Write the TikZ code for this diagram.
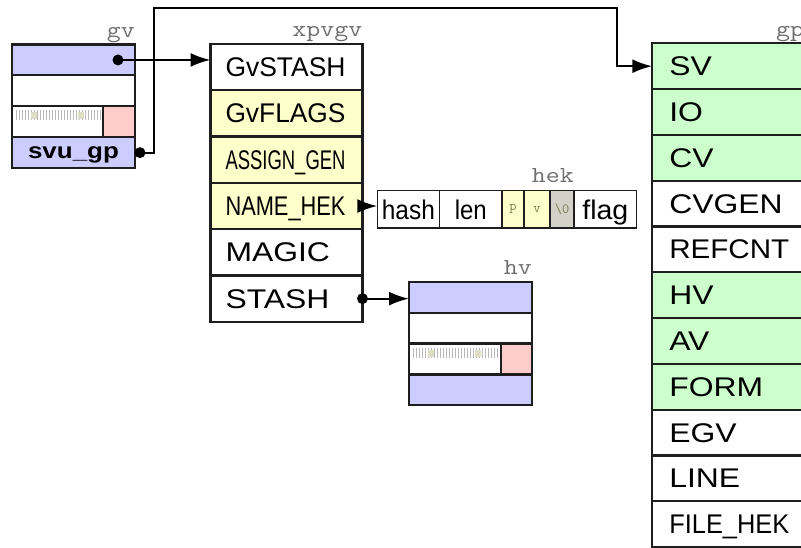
\documentclass[tikz,border=0pt]{standalone}
\usepackage{fontspec}
\usepackage{graphicx}
\usepackage{xcolor}
\usepackage{tikz}
\usetikzlibrary{arrows.meta,positioning}
\setmainfont{Liberation Sans}
\definecolor{PerlBlue}{RGB}{204,204,255}
\definecolor{PerlYellow}{RGB}{255,255,204}
\definecolor{PerlGreen}{RGB}{204,255,204}
\definecolor{PerlPink}{RGB}{255,204,204}
\definecolor{PerlNul}{RGB}{210,210,200}
\definecolor{PerlEdge}{RGB}{30,30,30}
\definecolor{PerlLabel}{RGB}{110,110,110}
\definecolor{PerlFlagText}{RGB}{120,120,80}
\definecolor{PerlTick}{RGB}{185,185,185}
\definecolor{PerlTickBlock}{RGB}{222,222,198}

% field text: widened like the original, squeezed when too long
\newsavebox\fldbox
\newlength\fldw
\newcommand\fld[2][120pt]{%
  \sbox\fldbox{#2}\dp\fldbox=0pt\relax
  \setlength\fldw{1.18\wd\fldbox}%
  \ifdim\fldw>#1\relax\resizebox{#1}{\height}{\usebox\fldbox}%
  \else\scalebox{1.18}[1]{\usebox\fldbox}\fi}
\newcommand\lbl[1]{\scalebox{1.18}[1]{\ttfamily\fontsize{23pt}{25pt}\selectfont #1}}

\begin{document}
\begin{tikzpicture}[x=1pt, y=-1pt, node distance=0pt]
  \tikzstyle{cell} = [rectangle, draw=PerlEdge, line width=2.2pt, outer sep=0pt, inner sep=0pt]
  \tikzstyle{xfield} = [cell, minimum height=46.3pt, text width=122pt, inner xsep=15pt, align=left, font=\fontsize{27pt}{29pt}\selectfont]
  \tikzstyle{gfield} = [xfield, minimum height=45.8pt, text width=118pt, inner xsep=17pt]
  \tikzstyle{slot} = [cell, minimum width=123pt, minimum height=30.9pt]
  \tikzstyle{hekcell} = [cell, line width=1.5pt, minimum height=37.3pt, font=\fontsize{27pt}{29pt}\selectfont]
  \tikzstyle{hekflag} = [hekcell, font=\ttfamily\fontsize{14pt}{16pt}\selectfont, text=PerlFlagText]
  \tikzstyle{tag} = [text=PerlLabel, inner sep=0pt, anchor=base east]
  \tikzstyle{ptr} = [draw=black, line width=2.2pt, -{Latex[length=20pt,width=14pt]}]
  \tikzstyle{tickmark} = [draw=PerlTick, line width=1pt]

  \useasboundingbox (0,0) rectangle (801,548);
  \clip (0,0) rectangle (801,548);

  % gv
  \node [slot, fill=PerlBlue, anchor=north west] (gv1) at (12,44.5) {};
  \node [slot, below=of gv1] (gv2) {};
  \node [slot, minimum width=91pt, anchor=north west] (gv3) at (gv2.south west) {};
  \node [slot, minimum width=32pt, fill=PerlPink, anchor=west] (gv3f) at (gv3.east) {};
  \node [slot, fill=PerlBlue, anchor=north west, font=\fontsize{22pt}{24pt}\selectfont\bfseries] (gv4) at (gv3.south west) {\fld[93pt]{svu\_gp}};
  \node [tag] at ([yshift=7pt]gv1.north east) {\lbl{gv}};
  \foreach \t in {0,...,28}
    \draw [tickmark] (gv3.north west) ++(4+3*\t,4) -- ++(0,10);
  \fill [PerlTickBlock] (gv3.north west) ++(19,6) rectangle ++(6,7);
  \fill [PerlTickBlock] (gv3.north west) ++(66,6) rectangle ++(6,7);

  % xpvgv
  \node [xfield, anchor=north west] (xp1) at (210.5,44) {\fld{GvSTASH}};
  \node [xfield, fill=PerlYellow, below=of xp1] (xp2) {\fld{GvFLAGS}};
  \node [xfield, fill=PerlYellow, below=of xp2] (xp3) {\fld{ASSIGN\_GEN}};
  \node [xfield, fill=PerlYellow, below=of xp3] (xp4) {\fld{NAME\_HEK}};
  \node [xfield, below=of xp4] (xp5) {\fld{MAGIC}};
  \node [xfield, below=of xp5] (xp6) {\fld{STASH}};
  \node [tag] at ([yshift=7pt]xp1.north east) {\lbl{xpvgv}};

  % hek
  \node [hekcell, minimum width=62.2pt, anchor=north west] (hash) at (377.3,190.7) {\fld[53pt]{hash}};
  \node [hekcell, minimum width=62.5pt, anchor=west] (heklen) at (hash.east) {\fld[32pt]{len}};
  \node [hekflag, minimum width=22pt, fill=PerlYellow, anchor=west] (hekp) at (heklen.east) {p};
  \node [hekflag, minimum width=26pt, fill=PerlYellow, anchor=west] (hekv) at (hekp.east) {v};
  \node [hekflag, minimum width=24pt, fill=PerlNul, anchor=west] (heknul) at (hekv.east) {\textbackslash0};
  \node [hekcell, minimum width=62.7pt, anchor=west] (hekflag) at (heknul.east) {\fld[46pt]{flag}};
  \node [tag] at ([yshift=8pt]heknul.north east) {\lbl{hek}};

  % hv
  \node [slot, fill=PerlBlue, anchor=north west] (hv1) at (409,281.7) {};
  \node [slot, below=of hv1] (hv2) {};
  \node [slot, minimum width=92pt, anchor=north west] (hv3) at (hv2.south west) {};
  \node [slot, minimum width=31pt, fill=PerlPink, anchor=west] (hv3f) at (hv3.east) {};
  \node [slot, fill=PerlBlue, anchor=north west] (hv4) at (hv3.south west) {};
  \node [tag] at ([yshift=7pt]hv1.north east) {\lbl{hv}};
  \foreach \t in {0,...,28}
    \draw [tickmark] (hv3.north west) ++(4+3*\t,4) -- ++(0,10);
  \fill [PerlTickBlock] (hv3.north west) ++(19,6) rectangle ++(6,7);
  \fill [PerlTickBlock] (hv3.north west) ++(66,6) rectangle ++(6,7);

  % gp
  \node [gfield, fill=PerlGreen, anchor=north west] (gp1) at (652.3,43.3) {\fld{SV}};
  \node [gfield, fill=PerlGreen, below=of gp1] (gp2) {\fld{IO}};
  \node [gfield, fill=PerlGreen, below=of gp2] (gp3) {\fld{CV}};
  \node [gfield, below=of gp3] (gp4) {\fld{CVGEN}};
  \node [gfield, below=of gp4] (gp5) {\fld{REFCNT}};
  \node [gfield, fill=PerlGreen, below=of gp5] (gp6) {\fld{HV}};
  \node [gfield, fill=PerlGreen, below=of gp6] (gp7) {\fld{AV}};
  \node [gfield, fill=PerlGreen, below=of gp7] (gp8) {\fld{FORM}};
  \node [gfield, below=of gp8] (gp9) {\fld{EGV}};
  \node [gfield, below=of gp9] (gp10) {\fld{LINE}};
  \node [gfield, below=of gp10] (gp11) {\fld{FILE\_HEK}};
  \node [tag] at ([yshift=7pt]gp1.north east) {\lbl{gp}};

  % pointers
  \coordinate (gvdot) at ([xshift=-17pt]gv1.east);
  \coordinate (gpdot) at ([xshift=5pt]gv4.east);
  \coordinate (overtop) at (617,8);
  \fill (gvdot) circle (5.5pt);
  \fill (gpdot) circle (5.5pt);
  \fill (xp6.east) circle (5.5pt);
  \path [ptr] (gvdot) -- (gvdot -| xp1.west);
  \path [ptr] (gpdot) -- ++(14,0) |- (overtop) |- (gp1.west);
  \path [ptr] (xp4.east) -- (xp4.east -| hash.west);
  \path [ptr] (xp6.east) -- (xp6.east -| hv1.west);
\end{tikzpicture}
\end{document}
